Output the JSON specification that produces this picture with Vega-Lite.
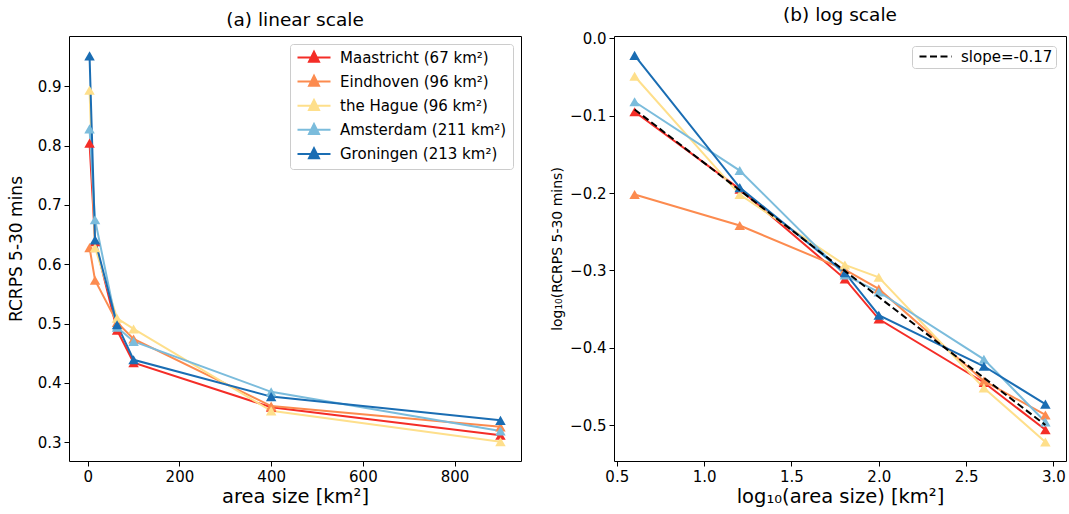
{
  "$schema": "https://vega.github.io/schema/vega-lite/v6.json",
  "padding": {"left": 6, "top": 5, "right": 2, "bottom": 5},
  "background": "white",
  "spacing": 93,
  "bounds": "flush",
  "config": {
    "font": "DejaVu Sans",
    "view": {"stroke": "#000", "strokeWidth": 1},
    "axis": {
      "grid": false,
      "domain": false,
      "tickColor": "#000",
      "tickSize": 5,
      "tickWidth": 1,
      "labelColor": "#000",
      "labelFontSize": 15,
      "labelPadding": 3,
      "titleColor": "#000",
      "titleFontWeight": "normal",
      "labelFlush": false
    },
    "title": {"fontSize": 18.5, "fontWeight": "normal", "color": "#000", "offset": 7},
    "legend": {
      "labelFontSize": 15,
      "labelColor": "#000",
      "labelLimit": 0,
      "strokeColor": "#ccc",
      "fillColor": "rgba(255,255,255,0.85)",
      "cornerRadius": 3,
      "titlePadding": 0
    }
  },
  "datasets": {
    "rows": [
      {"city": "Maastricht (67 km²)", "area": 4, "logarea": 0.602, "rcrps": 0.804, "logrcrps": -0.095},
      {"city": "Maastricht (67 km²)", "area": 16, "logarea": 1.204, "rcrps": 0.638, "logrcrps": -0.195},
      {"city": "Maastricht (67 km²)", "area": 64, "logarea": 1.806, "rcrps": 0.489, "logrcrps": -0.311},
      {"city": "Maastricht (67 km²)", "area": 100, "logarea": 2.0, "rcrps": 0.434, "logrcrps": -0.363},
      {"city": "Maastricht (67 km²)", "area": 400, "logarea": 2.602, "rcrps": 0.359, "logrcrps": -0.445},
      {"city": "Maastricht (67 km²)", "area": 900, "logarea": 2.954, "rcrps": 0.312, "logrcrps": -0.506},
      {"city": "Eindhoven (96 km²)", "area": 4, "logarea": 0.602, "rcrps": 0.628, "logrcrps": -0.202},
      {"city": "Eindhoven (96 km²)", "area": 16, "logarea": 1.204, "rcrps": 0.573, "logrcrps": -0.242},
      {"city": "Eindhoven (96 km²)", "area": 64, "logarea": 1.806, "rcrps": 0.502, "logrcrps": -0.299},
      {"city": "Eindhoven (96 km²)", "area": 100, "logarea": 2.0, "rcrps": 0.474, "logrcrps": -0.324},
      {"city": "Eindhoven (96 km²)", "area": 400, "logarea": 2.602, "rcrps": 0.361, "logrcrps": -0.443},
      {"city": "Eindhoven (96 km²)", "area": 900, "logarea": 2.954, "rcrps": 0.326, "logrcrps": -0.487},
      {"city": "the Hague (96 km²)", "area": 4, "logarea": 0.602, "rcrps": 0.893, "logrcrps": -0.049},
      {"city": "the Hague (96 km²)", "area": 16, "logarea": 1.204, "rcrps": 0.628, "logrcrps": -0.202},
      {"city": "the Hague (96 km²)", "area": 64, "logarea": 1.806, "rcrps": 0.509, "logrcrps": -0.293},
      {"city": "the Hague (96 km²)", "area": 100, "logarea": 2.0, "rcrps": 0.491, "logrcrps": -0.309},
      {"city": "the Hague (96 km²)", "area": 400, "logarea": 2.602, "rcrps": 0.353, "logrcrps": -0.452},
      {"city": "the Hague (96 km²)", "area": 900, "logarea": 2.954, "rcrps": 0.301, "logrcrps": -0.522},
      {"city": "Amsterdam (211 km²)", "area": 4, "logarea": 0.602, "rcrps": 0.828, "logrcrps": -0.082},
      {"city": "Amsterdam (211 km²)", "area": 16, "logarea": 1.204, "rcrps": 0.675, "logrcrps": -0.171},
      {"city": "Amsterdam (211 km²)", "area": 64, "logarea": 1.806, "rcrps": 0.494, "logrcrps": -0.306},
      {"city": "Amsterdam (211 km²)", "area": 100, "logarea": 2.0, "rcrps": 0.470, "logrcrps": -0.328},
      {"city": "Amsterdam (211 km²)", "area": 400, "logarea": 2.602, "rcrps": 0.385, "logrcrps": -0.415},
      {"city": "Amsterdam (211 km²)", "area": 900, "logarea": 2.954, "rcrps": 0.319, "logrcrps": -0.496},
      {"city": "Groningen (213 km²)", "area": 4, "logarea": 0.602, "rcrps": 0.951, "logrcrps": -0.022},
      {"city": "Groningen (213 km²)", "area": 16, "logarea": 1.204, "rcrps": 0.641, "logrcrps": -0.193},
      {"city": "Groningen (213 km²)", "area": 64, "logarea": 1.806, "rcrps": 0.498, "logrcrps": -0.303},
      {"city": "Groningen (213 km²)", "area": 100, "logarea": 2.0, "rcrps": 0.439, "logrcrps": -0.358},
      {"city": "Groningen (213 km²)", "area": 400, "logarea": 2.602, "rcrps": 0.377, "logrcrps": -0.424},
      {"city": "Groningen (213 km²)", "area": 900, "logarea": 2.954, "rcrps": 0.337, "logrcrps": -0.473}
    ],
    "fit": [
      {"label": "slope=-0.17", "x": 0.602, "y": -0.092},
      {"label": "slope=-0.17", "x": 2.954, "y": -0.500}
    ]
  },
  "resolve": {"scale": {"color": "independent"}, "legend": {"color": "independent", "strokeDash": "independent"}},
  "hconcat": [
    {
      "width": 452,
      "height": 425,
      "title": "(a) linear scale",
      "data": {"name": "rows"},
      "mark": {"type": "line", "strokeWidth": 2, "point": {"shape": "triangle-up", "filled": true, "size": 110, "opacity": 1}},
      "encoding": {
        "x": {"field": "area", "type": "quantitative",
              "scale": {"domain": [-40.8, 944.8], "nice": false, "zero": false},
              "axis": {"values": [0, 200, 400, 600, 800], "title": "area size [km²]", "titleFontSize": 19.5, "titlePadding": 3}},
        "y": {"field": "rcrps", "type": "quantitative",
              "scale": {"domain": [0.2685, 0.9845], "nice": false, "zero": false},
              "axis": {"values": [0.3, 0.4, 0.5, 0.6, 0.7, 0.8, 0.9], "format": ".1f", "title": "RCRPS 5-30 mins", "titleFontSize": 17, "titlePadding": 12}},
        "color": {"field": "city", "type": "nominal", "sort": null,
                  "scale": {"domain": ["Maastricht (67 km²)", "Eindhoven (96 km²)", "the Hague (96 km²)", "Amsterdam (211 km²)", "Groningen (213 km²)"],
                            "range": ["#f42d27", "#fc8b4f", "#fedf8b", "#7bbcdc", "#1a6db3"]},
                  "legend": {"title": null, "orient": "top-right", "offset": 8, "padding": 6, "symbolType": "M-1.2,0H5.4M1.1,0.85L2.1,-1.15L3.1,0.85Z", "symbolSize": 100, "symbolStrokeWidth": 2, "labelOffset": 29, "rowPadding": 5.1,
                             "encode": {"symbols": {"update": {"fill": {"signal": "['#f42d27','#fc8b4f','#fedf8b','#7bbcdc','#1a6db3'][datum.index]"}, "opacity": {"value": 1}}}}}}
      }
    },
    {
      "width": 452,
      "height": 425,
      "title": "(b) log scale",
      "layer": [
        {
          "data": {"name": "rows"},
          "mark": {"type": "line", "strokeWidth": 2, "point": {"shape": "triangle-up", "filled": true, "size": 110, "opacity": 1}},
          "encoding": {
            "x": {"field": "logarea", "type": "quantitative",
                  "scale": {"domain": [0.484, 3.072], "nice": false, "zero": false},
                  "axis": {"values": [0.5, 1.0, 1.5, 2.0, 2.5, 3.0], "format": ".1f", "title": "log₁₀(area size) [km²]", "titleFontSize": 19.5, "titlePadding": 3}},
            "y": {"field": "logrcrps", "type": "quantitative",
                  "scale": {"domain": [-0.5465, 0.003], "nice": false, "zero": false},
                  "axis": {"values": [0.0, -0.1, -0.2, -0.3, -0.4, -0.5], "format": ".1f", "title": "log₁₀(RCRPS 5-30 mins)", "titleFontSize": 14, "titlePadding": 5}},
            "color": {"field": "city", "type": "nominal", "sort": null,
                      "scale": {"domain": ["Maastricht (67 km²)", "Eindhoven (96 km²)", "the Hague (96 km²)", "Amsterdam (211 km²)", "Groningen (213 km²)"],
                                "range": ["#f42d27", "#fc8b4f", "#fedf8b", "#7bbcdc", "#1a6db3"]},
                      "legend": null}
          }
        },
        {
          "data": {"name": "fit"},
          "mark": {"type": "line", "color": "#000", "strokeWidth": 2},
          "encoding": {
            "x": {"field": "x", "type": "quantitative"},
            "y": {"field": "y", "type": "quantitative"},
            "strokeDash": {"field": "label", "type": "nominal",
                           "scale": {"domain": ["slope=-0.17"], "range": [[7, 3.5]]},
                           "legend": {"title": null, "orient": "top-right", "offset": 10, "padding": 3, "labelFontSize": 15, "symbolType": "M-0.6,0H5.8", "symbolSize": 100, "symbolStrokeWidth": 2, "symbolStrokeColor": "#000", "labelOffset": 31}}
          }
        }
      ]
    }
  ]
}
